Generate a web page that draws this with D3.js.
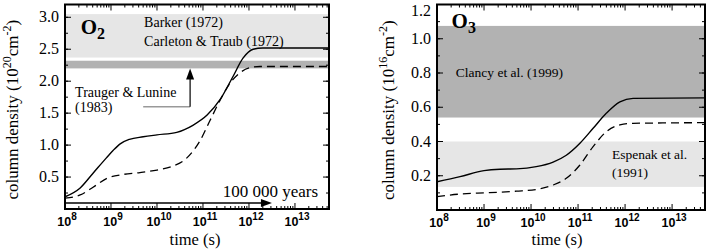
<!DOCTYPE html>
<html>
  <head>
    <meta charset="utf-8">
    <title></title>
    <style>
      body, html{
        margin: 0;
        background: #fff;
      }
      text{
        font-family: "Liberation Serif", serif;
      }
      .tk{
        font-family: "Liberation Sans", Arial, sans-serif;
        font-weight: bold;
      }
    </style>
  </head>
  <body>
    <svg id="chart" width="707" height="249"></svg>
    <script src="https://cdnjs.cloudflare.com/ajax/libs/d3/7.8.5/d3.min.js" charset="utf-8"></script>
    <script>
      // x values are log10(time in seconds)
      var xTickExps = [8, 9, 10, 11, 12, 13]

      // O2 panel
      var o2LogT = [8.0, 8.33, 8.61, 8.9, 9.05, 9.2, 9.4, 9.7, 10.0, 10.43, 10.78, 11.09, 11.37, 11.65, 11.87, 12.09, 12.3, 13.74]
      var o2Solid = [0.19, 0.33, 0.56, 0.8, 0.92, 1.02, 1.09, 1.13, 1.16, 1.2, 1.31, 1.47, 1.71, 2.07, 2.36, 2.5, 2.52, 2.52]
      var o2DashLogT = [8.0, 8.33, 8.61, 8.91, 9.26, 9.63, 10.0, 10.3, 10.65, 10.93, 11.15, 11.37, 11.59, 11.8, 12.02, 12.24, 13.74]
      var o2Dash = [0.17, 0.22, 0.34, 0.48, 0.54, 0.57, 0.61, 0.66, 0.8, 1.06, 1.38, 1.7, 1.97, 2.13, 2.21, 2.23, 2.23]
      var o2YTicks = [0.5, 1.0, 1.5, 2.0, 2.5, 3.0]
      var o2Bands = [[2.37, 3.05, '#e6e6e6'], [2.2, 2.32, '#b2b2b2']]

      // O3 panel
      var o3LogT = [8.0, 8.49, 9.0, 9.34, 9.69, 10.11, 10.47, 10.75, 11.04, 11.32, 11.6, 11.89, 12.17, 13.7]
      var o3Solid = [0.165, 0.195, 0.23, 0.238, 0.24, 0.253, 0.28, 0.32, 0.39, 0.477, 0.565, 0.632, 0.652, 0.655]
      var o3Dash = [0.078, 0.093, 0.10, 0.104, 0.11, 0.12, 0.146, 0.185, 0.263, 0.37, 0.457, 0.497, 0.506, 0.51]
      var o3YTicks = [0.2, 0.4, 0.6, 0.8, 1.0, 1.2]
      var o3Bands = [[0.54, 1.075, '#b2b2b2'], [0.135, 0.40, '#e6e6e6']]

      var svg = d3.select('#chart')

      function panel(opt){
        var x = d3.scaleLog().domain([1e8, Math.pow(10, opt.xmax)]).range([opt.left, opt.right])
        var y = d3.scaleLinear().domain([0, opt.ymax]).range([opt.bottom, opt.top])
        var g = svg.append('g')

        var clipId = 'clip' + opt.name
        g.append('clipPath').attr('id', clipId).append('rect')
          .attr('x', opt.left).attr('y', opt.top)
          .attr('width', opt.right - opt.left).attr('height', opt.bottom - opt.top)
        var inner = g.append('g').attr('clip-path', 'url(#' + clipId + ')')

        inner.selectAll('rect.band').data(opt.bands).enter().append('rect')
          .attr('class', 'band')
          .attr('x', opt.left).attr('width', opt.right - opt.left)
          .attr('y', function(d){ return y(d[1]) })
          .attr('height', function(d){ return y(d[0]) - y(d[1]) })
          .attr('fill', function(d){ return d[2] })

        var line = d3.line()
          .x(function(d){ return x(Math.pow(10, d[0])) })
          .y(function(d){ return y(d[1]) })
          .curve(d3.curveMonotoneX)
        inner.append('path').datum(d3.zip(opt.logT, opt.solid))
          .attr('d', line).attr('fill', 'none').attr('stroke', '#000').attr('stroke-width', 1.4)
        inner.append('path').datum(d3.zip(opt.dashLogT, opt.dash))
          .attr('d', line).attr('fill', 'none').attr('stroke', '#000').attr('stroke-width', 1.3)
          .attr('stroke-dasharray', '8,5')

        // ticks, inward on all four sides
        var majorX = xTickExps.map(function(e){ return Math.pow(10, e) })
        var minorX = []
        xTickExps.forEach(function(e){
          for(var k = 2; k <= 9; k++){
            var v = k * Math.pow(10, e)
            if(v < x.domain()[1]) minorX.push(v)
          }
        })
        var minorY = d3.range(opt.yminor, opt.ymax, opt.yminor)
        var tk = g.append('g').attr('stroke', '#000').attr('stroke-width', 1)
        function xt(vals, len){
          vals.forEach(function(v){
            tk.append('line').attr('x1', x(v)).attr('x2', x(v)).attr('y1', opt.bottom).attr('y2', opt.bottom - len)
            tk.append('line').attr('x1', x(v)).attr('x2', x(v)).attr('y1', opt.top).attr('y2', opt.top + len)
          })
        }
        function yt(vals, len){
          vals.forEach(function(v){
            tk.append('line').attr('y1', y(v)).attr('y2', y(v)).attr('x1', opt.left).attr('x2', opt.left + len)
            tk.append('line').attr('y1', y(v)).attr('y2', y(v)).attr('x1', opt.right).attr('x2', opt.right - len)
          })
        }
        xt(minorX, 3)
        xt(majorX, 6)
        yt(minorY, 3)
        yt(opt.yTicks, 6)

        g.append('rect')
          .attr('x', opt.left).attr('y', opt.top)
          .attr('width', opt.right - opt.left).attr('height', opt.bottom - opt.top)
          .attr('fill', 'none').attr('stroke', '#000').attr('stroke-width', 2)

        // tick labels
        var xl = g.selectAll('text.xl').data(xTickExps).enter().append('text')
          .attr('class', 'tk')
          .attr('x', function(d){ return x(Math.pow(10, d)) + 2 })
          .attr('y', opt.bottom + 17)
          .attr('text-anchor', 'middle')
          .attr('font-size', 12.5)
        xl.append('tspan').text('10')
        xl.append('tspan').attr('dy', -6).attr('font-size', 10).text(function(d){ return d })

        g.selectAll('text.yl').data(opt.yTicks).enter().append('text')
          .attr('x', opt.left - 6)
          .attr('y', function(d){ return Math.max(y(d) + 5, 16) })
          .attr('text-anchor', 'end')
          .attr('font-size', 16)
          .text(function(d){ return d.toFixed(1) })

        g.append('text')
          .attr('x', opt.timeX).attr('y', 245)
          .attr('text-anchor', 'middle').attr('font-size', 16.5)
          .text('time (s)')

        var yl = g.append('text')
          .attr('transform', 'translate(' + opt.ylabX + ',' + ((opt.top + opt.bottom) / 2 + 3) + ') rotate(-90)')
          .attr('text-anchor', 'middle').attr('font-size', 17)
        yl.append('tspan').text('column density (10')
        yl.append('tspan').attr('dy', -7).attr('font-size', 12).text(opt.exp)
        yl.append('tspan').attr('dy', 7).text('cm')
        yl.append('tspan').attr('dy', -7).attr('font-size', 12).text('-2')
        yl.append('tspan').attr('dy', 7).text(')')

        var t = g.append('text')
          .attr('x', x(Math.pow(10, opt.mol[0]))).attr('y', y(opt.mol[1]))
          .attr('font-size', 21).attr('font-weight', 'bold')
        t.append('tspan').text('O')
        t.append('tspan').attr('dy', 5).attr('font-size', 16).text(opt.sub)

        return {x: x, y: y, g: g}
      }

      var p1 = panel({
        name: 'o2', left: 65, right: 329, top: 4.5, bottom: 209, xmax: 13.74, ymax: 3.2, yminor: 0.25,
        logT: o2LogT, solid: o2Solid, dashLogT: o2DashLogT, dash: o2Dash,
        yTicks: o2YTicks, bands: o2Bands, ylabX: 18, timeX: 195, exp: '20', mol: [8.34, 2.74], sub: '2'
      })
      var p2 = panel({
        name: 'o3', left: 437, right: 705, top: 4.5, bottom: 210, xmax: 13.7, ymax: 1.2, yminor: 0.1,
        logT: o3LogT, solid: o3Solid, dashLogT: o3LogT, dash: o3Dash,
        yTicks: o3YTicks, bands: o3Bands, ylabX: 394, timeX: 557, exp: '16', mol: [8.31, 1.06], sub: '3'
      })

      function X(p, e){ return p.x(Math.pow(10, e)) }

      // O2 annotations
      var a = p1.g
      a.append('text').attr('x', X(p1, 9.72)).attr('y', p1.y(2.85)).attr('font-size', 14).text('Barker (1972)')
      a.append('text').attr('x', X(p1, 9.72)).attr('y', p1.y(2.55)).attr('font-size', 14).text('Carleton & Traub (1972)')
      a.append('text').attr('x', X(p1, 8.22)).attr('y', p1.y(1.75)).attr('font-size', 14).text('Trauger & Lunine')
      a.append('text').attr('x', X(p1, 8.22)).attr('y', p1.y(1.52)).attr('font-size', 14).text('(1983)')
      a.append('line').attr('x1', X(p1, 9.7)).attr('x2', X(p1, 10.72)).attr('y1', p1.y(1.6)).attr('y2', p1.y(1.6))
        .attr('stroke', '#999').attr('stroke-width', 1.5)
      a.append('line').attr('x1', X(p1, 10.72)).attr('x2', X(p1, 10.72)).attr('y1', p1.y(1.6)).attr('y2', p1.y(2.05))
        .attr('stroke', '#000').attr('stroke-width', 1.2)
      var ax = X(p1, 10.72), ay = p1.y(o2Bands[1][0])
      a.append('path').attr('d', 'M' + ax + ',' + ay + 'l-4,11h8z').attr('fill', '#000')

      a.append('text').attr('x', X(p1, 11.43)).attr('y', p1.y(0.19)).attr('font-size', 17).text('100 000 years')
      var ry = p1.y(0.094), rx = X(p1, 12.5)
      a.append('line').attr('x1', X(p1, 8)).attr('x2', rx - 8).attr('y1', ry).attr('y2', ry)
        .attr('stroke', '#000').attr('stroke-width', 1.5)
      a.append('path').attr('d', 'M' + rx + ',' + ry + 'l-11,-4v8z').attr('fill', '#000')

      // O3 annotations
      var b = p2.g
      b.append('text').attr('x', X(p2, 8.4)).attr('y', p2.y(0.777)).attr('font-size', 13.5).text('Clancy et al. (1999)')
      b.append('text').attr('x', X(p2, 11.72)).attr('y', p2.y(0.298)).attr('font-size', 13.5).text('Espenak et al.')
      b.append('text').attr('x', X(p2, 11.72)).attr('y', p2.y(0.193)).attr('font-size', 13.5).text('(1991)')
    </script>
  </body>
</html>
